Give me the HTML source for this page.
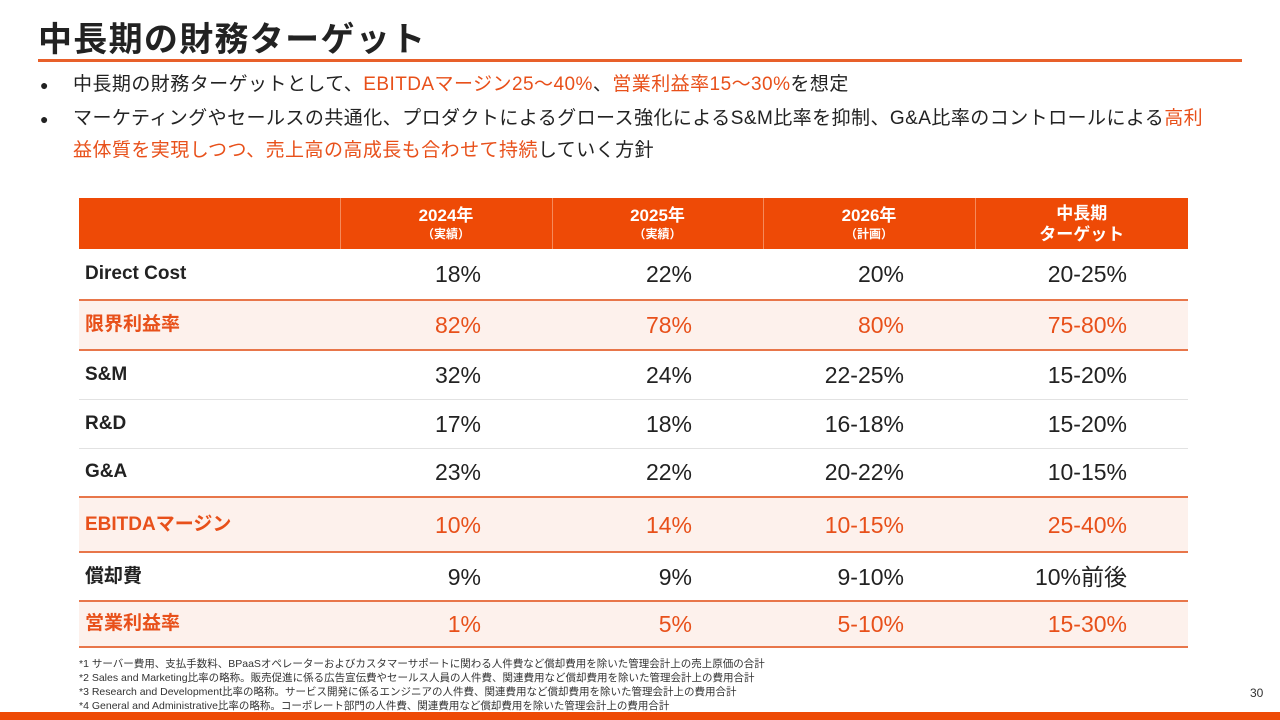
<!DOCTYPE html>
<html><head><meta charset="utf-8"><style>
*{margin:0;padding:0;box-sizing:border-box}
body{width:1280px;height:720px;background:#fff;position:relative;overflow:hidden;font-family:"Liberation Sans","Noto Sans CJK JP",sans-serif;color:#222}
.o{color:#e8501a}
#title{position:absolute;left:38px;top:12px;font-size:34px;font-weight:bold;letter-spacing:1.3px;color:#222}
#rule{position:absolute;left:38px;top:59px;width:1204px;height:3px;background:#e8602a}
.b{position:absolute;left:40px;font-size:19px;line-height:32px;letter-spacing:0.45px}
.b .dot{position:absolute;left:0;font-size:14px}
.b .t{position:absolute;left:33px;width:1200px;white-space:nowrap}
table{position:absolute;left:79px;top:198px;width:1109px;border-collapse:collapse;table-layout:fixed}
th{background:#ee4a06;color:#fff;font-weight:bold;font-size:17px;line-height:21px;height:51px;border-left:1px solid #f58a5a;text-align:center;vertical-align:middle}
th small{font-size:12px;display:block;line-height:16px}
td{font-size:23px;text-align:right;padding-right:71px;border-bottom:1px solid #e2e2e2;vertical-align:middle;line-height:26px}
td:first-child{text-align:left;padding-left:6px;padding-right:0;font-size:19px;font-weight:bold}
td:last-child{padding-right:61px}
tr.h td{background:#fdf1ec;color:#e8501a}
tr.ob td{border-bottom:2px solid #e8764a}
#notes{position:absolute;left:79px;top:657px;font-size:10.5px;line-height:14px;color:#333;white-space:nowrap}
#pg{position:absolute;left:1250px;top:686px;font-size:12px;color:#333}
#bar{position:absolute;left:0;top:712px;width:1280px;height:8px;background:#ee4a06}
</style></head><body>
<div id="title">中長期の財務ターゲット</div>
<div id="rule"></div>
<div class="b" style="top:69px"><span class="dot">●</span><span class="t">中長期の財務ターゲットとして、<span class="o">EBITDAマージン25〜40%</span>、<span class="o">営業利益率15〜30%</span>を想定</span></div>
<div class="b" style="top:103px"><span class="dot">●</span><span class="t">マーケティングやセールスの共通化、プロダクトによるグロース強化によるS&amp;M比率を抑制、G&amp;A比率のコントロールによる<span class="o">高利</span><br><span class="o">益体質を実現しつつ、売上高の高成長も合わせて持続</span>していく方針</span></div>
<table>
<colgroup><col style="width:261px"><col style="width:212px"><col style="width:211px"><col style="width:212px"><col style="width:213px"></colgroup>
<tr><th style="border-left:none"></th><th>2024年<small>（実績）</small></th><th>2025年<small>（実績）</small></th><th>2026年<small>（計画）</small></th><th>中長期<br>ターゲット</th></tr>
<tr class="ob" style="height:51px"><td>Direct Cost</td><td>18%</td><td>22%</td><td>20%</td><td>20-25%</td></tr>
<tr class="h ob" style="height:50px"><td>限界利益率</td><td>82%</td><td>78%</td><td>80%</td><td>75-80%</td></tr>
<tr style="height:49px"><td>S&amp;M</td><td>32%</td><td>24%</td><td>22-25%</td><td>15-20%</td></tr>
<tr style="height:49px"><td>R&amp;D</td><td>17%</td><td>18%</td><td>16-18%</td><td>15-20%</td></tr>
<tr class="ob" style="height:49px"><td>G&amp;A</td><td>23%</td><td>22%</td><td>20-22%</td><td>10-15%</td></tr>
<tr class="h ob" style="height:55px"><td>EBITDAマージン</td><td>10%</td><td>14%</td><td>10-15%</td><td>25-40%</td></tr>
<tr class="ob" style="height:49px"><td>償却費</td><td>9%</td><td>9%</td><td>9-10%</td><td>10%前後</td></tr>
<tr class="h ob" style="height:46px"><td>営業利益率</td><td>1%</td><td>5%</td><td>5-10%</td><td>15-30%</td></tr>
</table>
<div id="notes">*1 サーバー費用、支払手数料、BPaaSオペレーターおよびカスタマーサポートに関わる人件費など償却費用を除いた管理会計上の売上原価の合計<br>*2 Sales and Marketing比率の略称。販売促進に係る広告宣伝費やセールス人員の人件費、関連費用など償却費用を除いた管理会計上の費用合計<br>*3 Research and Development比率の略称。サービス開発に係るエンジニアの人件費、関連費用など償却費用を除いた管理会計上の費用合計<br>*4 General and Administrative比率の略称。コーポレート部門の人件費、関連費用など償却費用を除いた管理会計上の費用合計</div>
<div id="pg">30</div>
<div id="bar"></div>
</body></html>
